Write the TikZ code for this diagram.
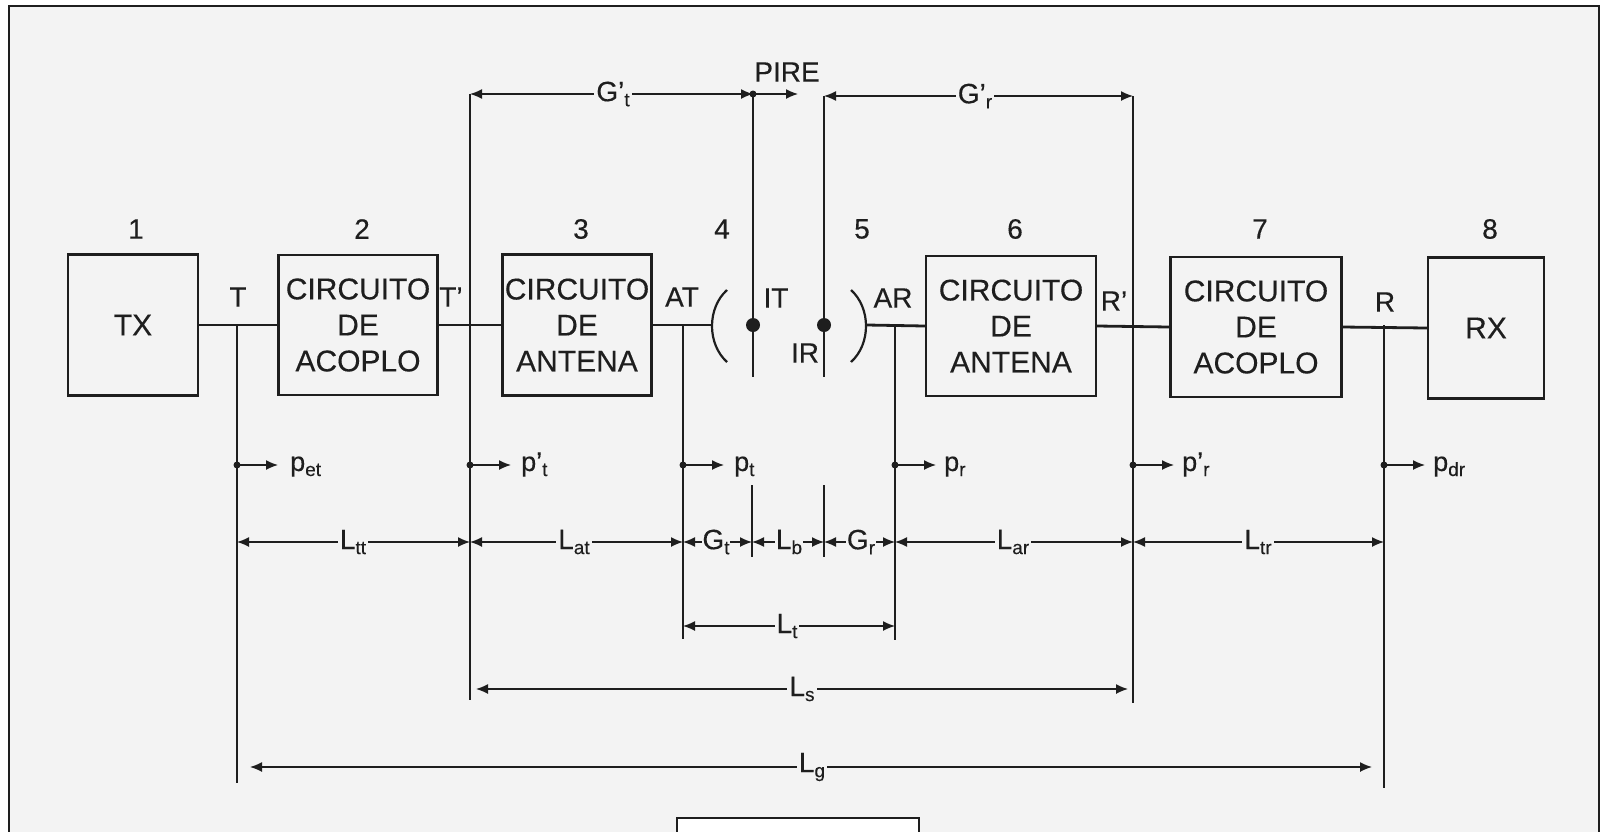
\documentclass[tikz,border=0pt]{standalone}
\usepackage{fontspec}
\setmainfont{Liberation Sans}[FakeBold=0.3]
\usetikzlibrary{arrows.meta}
\definecolor{bg}{RGB}{243,243,243}
\definecolor{ink}{RGB}{30,30,30}
\newcommand\mysub[1]{\raisebox{-5pt}{\fontsize{19}{19}\selectfont #1}}
\begin{document}
\begin{tikzpicture}[x=1pt,y=-1pt,color=ink,
  blk/.style={draw, line width=2.4pt, fill=bg, align=center, inner sep=0pt,
    font=\fontsize{30}{36}\selectfont},
  wire/.style={line width=2.8pt},
  vline/.style={line width=1.4pt},
  tip/.tip={Latex[length=12pt,width=10pt]},
  dim/.style={line width=1.4pt, tip-tip},
  dimlbl/.style={fill=bg, inner sep=2pt, font=\fontsize{28}{28}\selectfont},
  lab/.style={font=\fontsize{28}{28}\selectfont, inner sep=0pt},
  num/.style={font=\fontsize{28}{28}\selectfont, inner sep=0pt},
  pw/.style={line width=1.4pt, -tip},
  pdot/.style={circle, fill=ink, inner sep=0pt, minimum size=7pt},
  bigdot/.style={circle, fill=ink, inner sep=0pt, minimum size=14pt},
  plbl/.style={font=\fontsize{27}{27}\selectfont, inner sep=0pt, anchor=base west},
]
\useasboundingbox (0,0) rectangle (1603,831);
\clip (0,0) rectangle (1603,831);
\fill[white] (0,0) rectangle (1603,831);
\draw[line width=2.2pt, fill=bg] (9,900) -- (9,6) -- (1599,6) -- (1599,900);

% ---------- blocks ----------
\node[blk, minimum width=130pt, minimum height=141pt] (tx) at (133,325) {TX};
\node[blk, minimum width=159pt, minimum height=140pt] (b2) at (358,325) {CIRCUITO\\DE\\ACOPLO};
\node[blk, minimum width=149pt, minimum height=141pt] (b3) at (577,325) {CIRCUITO\\DE\\ANTENA};
\node[blk, minimum width=170pt, minimum height=140pt] (b6) at (1011,326) {CIRCUITO\\DE\\ANTENA};
\node[blk, minimum width=171pt, minimum height=140pt] (b7) at (1256,327) {CIRCUITO\\DE\\ACOPLO};
\node[blk, minimum width=116pt, minimum height=141pt] (rx) at (1486,328) {RX};

% ---------- numbers ----------
\node[num] (n1) at (136,229) {1};
\node[num] (n2) at (362,229) {2};
\node[num] (n3) at (581,229) {3};
\node[num] (n4) at (722,229) {4};
\node[num] (n5) at (862,229) {5};
\node[num] (n6) at (1015,229) {6};
\node[num] (n7) at (1260,229) {7};
\node[num] (n8) at (1490,229) {8};

% ---------- reference points ----------
\coordinate (Tw) at (237,325);   \coordinate (Tb) at (237,783);
\coordinate (Tpt) at (470,94);   \coordinate (Tpb) at (470,700);
\coordinate (ATw) at (683,325);  \coordinate (ATb) at (683,639);
\coordinate (ITt) at (753,94);   \coordinate (ITb) at (753,377);
\coordinate (IRt) at (824,96);   \coordinate (IRb) at (824,377);
\coordinate (ARw) at (895,325);  \coordinate (ARb) at (895,640);
\coordinate (Rpt) at (1133,96);  \coordinate (Rpb) at (1133,703);
\coordinate (Rw) at (1384,325);  \coordinate (Rb) at (1384,788);
\coordinate (aL) at (712,325);   \coordinate (aR) at (867,325);

% ---------- main chain ----------
\draw[wire] (tx.east) -- (b2.west);
\draw[wire] (b2.east) -- (b3.west);
\draw[wire] (b3.east) -- (aL);
\draw[wire] (aR) -- (b6.west);
\draw[wire] (b6.east) -- (b7.west);
\draw[wire] (b7.east) -- (rx.west);

% antennas
\draw[line width=2.2pt] (727,290) .. controls (707,308) and (707,344) .. (727,362);
\draw[line width=2.2pt] (851,290) .. controls (871,308) and (871,344) .. (851,362);

% vertical reference lines
\draw[vline] (Tw) -- (Tb);
\draw[vline] (Tpt) -- (Tpb);
\draw[vline] (ATw) -- (ATb);
\draw[vline] (ITt) -- (ITb);
\draw[vline] (IRt) -- (IRb);
\draw[vline] (ARw) -- (ARb);
\draw[vline] (Rpt) -- (Rpb);
\draw[vline] (Rw) -- (Rb);

\node[bigdot] (dIT) at (753,325) {};
\node[bigdot] (dIR) at (824,325) {};

% point labels
\node[lab] (lT) at (238,297) {T};
\node[lab] (lTp) at (451,297) {T’};
\node[lab] (lAT) at (682,297) {AT};
\node[lab] (lIT) at (776,298) {IT};
\node[lab] (lIR) at (805,353) {IR};
\node[lab] (lAR) at (893,298) {AR};
\node[lab] (lRp) at (1114,301) {R’};
\node[lab] (lR) at (1385,302) {R};

% ---------- top: G't, PIRE, G'r ----------
\draw[dim] (Tpt) -- (ITt);
\node[dimlbl] (gtp) at (613,94) {G’\mysub{t}};
\node[pdot] (dP) at (753,94) {};
\coordinate (pireE) at (798,94);
\draw[pw] (dP.center) -- (pireE);
\node[font=\fontsize{28}{28}\selectfont, inner sep=0pt] (pire) at (787,72) {PIRE};
\draw[dim] (IRt) -- (Rpt);
\node[dimlbl] (grp) at (975,96) {G’\mysub{r}};

% ---------- power arrows ----------
\node[pdot] (p1) at (237,465) {};  \coordinate (p1e) at (278,465);
\node[pdot] (p2) at (470,465) {};  \coordinate (p2e) at (511,465);
\node[pdot] (p3) at (683,465) {};  \coordinate (p3e) at (724,465);
\node[pdot] (p4) at (895,465) {};  \coordinate (p4e) at (936,465);
\node[pdot] (p5) at (1133,465) {}; \coordinate (p5e) at (1174,465);
\node[pdot] (p6) at (1384,465) {}; \coordinate (p6e) at (1425,465);
\draw[pw] (p1.center) -- (p1e);
\draw[pw] (p2.center) -- (p2e);
\draw[pw] (p3.center) -- (p3e);
\draw[pw] (p4.center) -- (p4e);
\draw[pw] (p5.center) -- (p5e);
\draw[pw] (p6.center) -- (p6e);
\node[plbl] (lp1) at (290,471) {p\mysub{et}};
\node[plbl] (lp2) at (521,471) {p’\mysub{t}};
\node[plbl] (lp3) at (734,471) {p\mysub{t}};
\node[plbl] (lp4) at (944,471) {p\mysub{r}};
\node[plbl] (lp5) at (1182,471) {p’\mysub{r}};
\node[plbl] (lp6) at (1433,471) {p\mysub{dr}};

% ---------- dimension row ----------
\coordinate (d1) at (237,542);
\coordinate (d2) at (470,542);
\coordinate (d3) at (683,542);
\coordinate (d4) at (752,542);
\coordinate (d5) at (824,542);
\coordinate (d6) at (895,542);
\coordinate (d7) at (1133,542);
\coordinate (d8) at (1384,542);
\coordinate (k1t) at (752,485); \coordinate (k1b) at (752,557);
\coordinate (k2t) at (824,485); \coordinate (k2b) at (824,557);
\draw[vline] (k1t) -- (k1b);
\draw[vline] (k2t) -- (k2b);
\draw[dim] (d1) -- (d2);
\draw[dim] (d2) -- (d3);
\draw[dim] (d3) -- (d4);
\draw[dim] (d4) -- (d5);
\draw[dim] (d5) -- (d6);
\draw[dim] (d6) -- (d7);
\draw[dim] (d7) -- (d8);
\node[dimlbl] (ltt) at (353,542) {L\mysub{tt}};
\node[dimlbl] (lat) at (574,542) {L\mysub{at}};
\node[dimlbl, inner sep=0.5pt] (gt) at (716,542) {G\mysub{t}};
\node[dimlbl, inner sep=0.5pt] (lb) at (789,542) {L\mysub{b}};
\node[dimlbl, inner sep=0.5pt] (gr) at (861,542) {G\mysub{r}};
\node[dimlbl] (lar) at (1013,542) {L\mysub{ar}};
\node[dimlbl] (ltr) at (1258,542) {L\mysub{tr}};

% L_t
\coordinate (t1) at (683,626); \coordinate (t2) at (895,626);
\draw[dim] (t1) -- (t2);
\node[dimlbl] (lt) at (787,626) {L\mysub{t}};
% L_s
\coordinate (s1) at (470,689); \coordinate (s2) at (1133,689);
\draw[dim, shorten <=6pt, shorten >=5pt] (s1) -- (s2);
\node[dimlbl] (ls) at (802,689) {L\mysub{s}};
% L_g
\coordinate (g1) at (237,767); \coordinate (g2) at (1384,767);
\draw[dim, shorten <=13pt, shorten >=12pt] (g1) -- (g2);
\node[dimlbl] (lg) at (812,767) {L\mysub{g}};

% blank box at bottom
\node[draw, line width=2pt, fill=white, minimum width=242pt, minimum height=50pt,
  anchor=north west, inner sep=0pt] (blank) at (676,817) {};
\end{tikzpicture}
\end{document}
